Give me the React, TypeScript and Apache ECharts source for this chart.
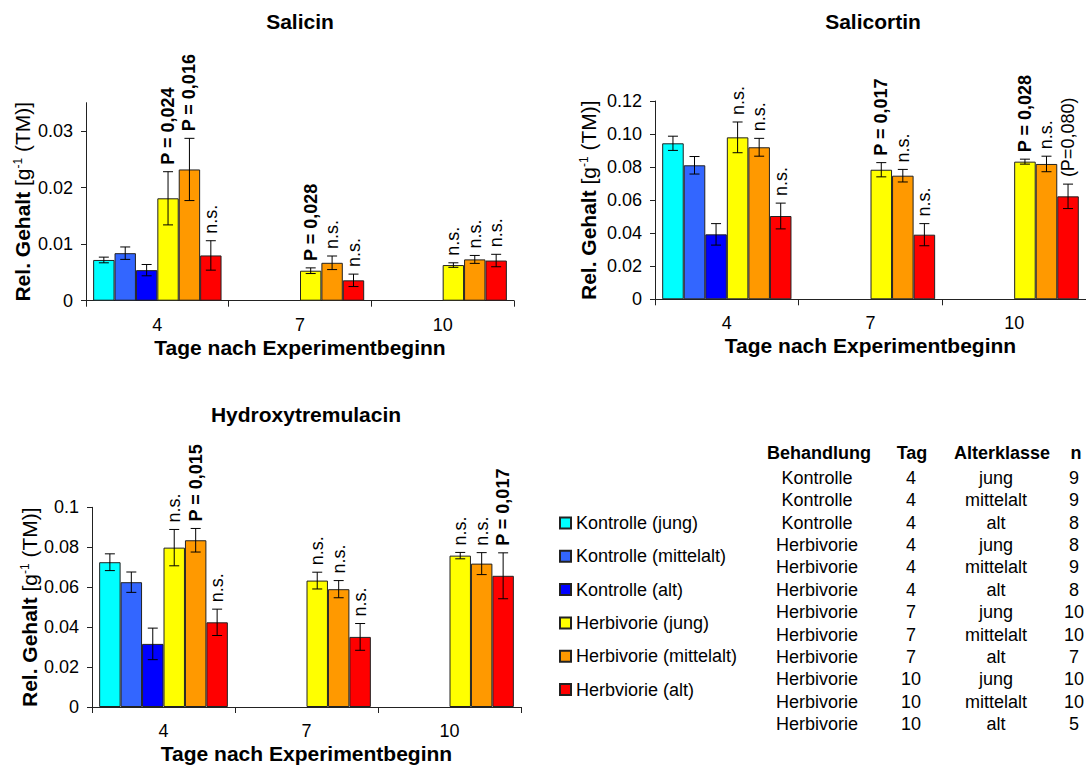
import React, { useEffect, useRef } from 'react';
import * as echarts from 'echarts';

const FONT = '"Liberation Sans", Arial, Helvetica, sans-serif';

const days = ['4', '7', '10'];
const seriesNames = [
  'Kontrolle (jung)',
  'Kontrolle (mittelalt)',
  'Kontrolle (alt)',
  'Herbivorie (jung)',
  'Herbivorie (mittelalt)',
  'Herbviorie (alt)',
];
const seriesColors = ['#00FFFF', '#3366FF', '#0000FF', '#FFFF00', '#FF9900', '#FF0000'];

// Salicin (rows = series, columns = days 4, 7, 10)
const salicinMean = [
  [0.0072, null, null],
  [0.0084, null, null],
  [0.0054, null, null],
  [0.0181, 0.0053, 0.0063],
  [0.0232, 0.0067, 0.0073],
  [0.008, 0.0036, 0.0071],
];
const salicinErr = [
  [0.0005, null, null],
  [0.0011, null, null],
  [0.001, null, null],
  [0.0047, 0.0005, 0.0004],
  [0.0055, 0.0012, 0.0007],
  [0.0026, 0.0011, 0.0011],
];
const salicinSig = [
  ['', '', ''],
  ['', '', ''],
  ['', '', ''],
  ['P = 0,024', 'P = 0,028', 'n.s.'],
  ['P = 0,016', 'n.s.', 'n.s.'],
  ['n.s.', 'n.s.', 'n.s.'],
];

// Salicortin
const salicortinMean = [
  [0.0944, null, null],
  [0.0811, null, null],
  [0.0393, null, null],
  [0.098, 0.0784, 0.0833],
  [0.092, 0.0748, 0.0819],
  [0.0504, 0.0391, 0.0623],
];
const salicortinErr = [
  [0.0043, null, null],
  [0.0053, null, null],
  [0.0065, null, null],
  [0.0093, 0.0043, 0.0015],
  [0.0054, 0.0038, 0.0047],
  [0.0078, 0.0067, 0.0074],
];
const salicortinSig = [
  ['', '', ''],
  ['', '', ''],
  ['', '', ''],
  ['n.s.', 'P = 0,017', 'P = 0,028'],
  ['n.s.', 'n.s.', 'n.s.'],
  ['n.s.', 'n.s.', '(P=0,080)'],
];

// Hydroxytremulacin
const hydroxyMean = [
  [0.0725, null, null],
  [0.0625, null, null],
  [0.0316, null, null],
  [0.0798, 0.0633, 0.0758],
  [0.0835, 0.059, 0.0718],
  [0.0424, 0.0351, 0.0657],
];
const hydroxyErr = [
  [0.0042, null, null],
  [0.0051, null, null],
  [0.0079, null, null],
  [0.0091, 0.0042, 0.0016],
  [0.0059, 0.0043, 0.0055],
  [0.0066, 0.0067, 0.0115],
];
const hydroxySig = [
  ['', '', ''],
  ['', '', ''],
  ['', '', ''],
  ['n.s.', 'n.s.', 'n.s.'],
  ['P = 0,015', 'n.s.', 'n.s.'],
  ['n.s.', 'n.s.', 'P = 0,017'],
];

// Table
const tableHeader = ['Behandlung', 'Tag', 'Alterklasse', 'n'];
const tableBehandlung = ['Kontrolle', 'Kontrolle', 'Kontrolle', 'Herbivorie', 'Herbivorie', 'Herbivorie', 'Herbivorie', 'Herbivorie', 'Herbivorie', 'Herbivorie', 'Herbivorie', 'Herbivorie'];
const tableTag = ['4', '4', '4', '4', '4', '4', '7', '7', '7', '10', '10', '10'];
const tableAlter = ['jung', 'mittelalt', 'alt', 'jung', 'mittelalt', 'alt', 'jung', 'mittelalt', 'alt', 'jung', 'mittelalt', 'alt'];
const tableN = ['9', '9', '8', '8', '9', '8', '10', '10', '7', '10', '10', '5'];

const titles = ['Salicin', 'Salicortin', 'Hydroxytremulacin'];

type ChartDef = {
  mean: (number | null)[][];
  err: (number | null)[][];
  sig: string[][];
  grid: { left: number; top: number; width: number; height: number };
  max: number;
  interval: number;
  ticks: number[];
  fmt: (v: number) => string;
  nameGap: number;
  titleX: number;
  titleY: number;
};

const charts: ChartDef[] = [
  {
    mean: salicinMean,
    err: salicinErr,
    sig: salicinSig,
    grid: { left: 86, top: 102.7, width: 428, height: 198 },
    max: 0.035,
    interval: 0.01,
    ticks: [0, 0.01, 0.02, 0.03],
    fmt: (v) => (v === 0 ? '0' : v.toFixed(2)),
    nameGap: 53,
    titleX: 300,
    titleY: 21,
  },
  {
    mean: salicortinMean,
    err: salicortinErr,
    sig: salicortinSig,
    grid: { left: 655, top: 101, width: 437, height: 198.3 },
    max: 0.12,
    interval: 0.02,
    ticks: [0, 0.02, 0.04, 0.06, 0.08, 0.1, 0.12],
    fmt: (v) => (v === 0 ? '0' : v.toFixed(2)),
    nameGap: 56,
    titleX: 873,
    titleY: 21,
  },
  {
    mean: hydroxyMean,
    err: hydroxyErr,
    sig: hydroxySig,
    grid: { left: 92, top: 507.3, width: 429, height: 200.4 },
    max: 0.1,
    interval: 0.02,
    ticks: [0, 0.02, 0.04, 0.06, 0.08, 0.1],
    fmt: (v) => (v === 0 ? '0' : Math.abs(v - 0.1) < 1e-9 ? '0.1' : v.toFixed(2)),
    nameGap: 50,
    titleX: 306,
    titleY: 414,
  },
];

function textEl(text: string, x: number, y: number, font: string, align: string = 'center') {
  return {
    type: 'text',
    x,
    y,
    style: {
      text,
      font,
      fill: '#000',
      textAlign: align,
      textVerticalAlign: 'middle',
      align,
      verticalAlign: 'middle',
    },
  };
}

export default function App() {
  const ref = useRef<HTMLDivElement>(null);

  useEffect(() => {
    if (!ref.current) return;
    const chart = echarts.init(ref.current, undefined, { renderer: 'svg' });

    const grids: any[] = [];
    const xAxes: any[] = [];
    const yAxes: any[] = [];
    const series: any[] = [];

    charts.forEach((c, ci) => {
      grids.push({ ...c.grid, containLabel: false });
      xAxes.push({
        type: 'category',
        gridIndex: ci,
        data: days,
        name: 'Tage nach Experimentbeginn',
        nameLocation: 'middle',
        nameGap: 36,
        nameTextStyle: { fontSize: 21, fontWeight: 'bold', fontFamily: FONT, color: '#000' },
        axisLine: { show: true, lineStyle: { color: '#222', width: 1 } },
        axisTick: { show: true, length: 6, lineStyle: { color: '#222' } },
        axisLabel: { fontSize: 18, fontFamily: FONT, color: '#000', margin: 15 },
        splitLine: { show: false },
      });
      yAxes.push({
        type: 'value',
        gridIndex: ci,
        min: 0,
        max: c.max,
        interval: c.interval,
        name: '{b|Rel. Gehalt }{n|[g}{s|-1}{n| (TM)]}',
        nameLocation: 'middle',
        nameRotate: 90,
        nameGap: c.nameGap,
        nameTextStyle: {
          rich: {
            b: { fontSize: 21, fontWeight: 'bold', fontFamily: FONT, color: '#000' },
            n: { fontSize: 21, fontFamily: FONT, color: '#000' },
            s: { fontSize: 12, fontFamily: FONT, color: '#000', verticalAlign: 'top' },
          },
        },
        axisLine: { show: true, lineStyle: { color: '#222', width: 1 } },
        axisTick: { show: true, length: 5, lineStyle: { color: '#222' }, customValues: c.ticks },
        axisLabel: {
          fontSize: 18,
          fontFamily: FONT,
          color: '#000',
          margin: 13,
          customValues: c.ticks,
          formatter: (v: number) => c.fmt(v),
        },
        splitLine: { show: false },
      });

      c.mean.forEach((vals, si) => {
        series.push({
          type: 'bar',
          name: seriesNames[si],
          xAxisIndex: ci,
          yAxisIndex: ci,
          data: vals,
          barGap: '0%',
          barCategoryGap: '10%',
          itemStyle: { color: seriesColors[si], borderColor: '#222', borderWidth: 1 },
          emphasis: { disabled: true },
        });
      });

      const errData: any[] = [];
      const errLabels: string[] = [];
      c.mean.forEach((vals, si) => {
        vals.forEach((m, di) => {
          if (m == null) return;
          const e = c.err[si][di] || 0;
          errData.push([di, si, m - e, m + e]);
          errLabels.push(c.sig[si][di]);
        });
      });

      series.push({
        type: 'custom',
        xAxisIndex: ci,
        yAxisIndex: ci,
        data: errData,
        encode: { x: 0, y: [2, 3] },
        z: 10,
        silent: true,
        renderItem: (params: any, api: any) => {
          const di = api.value(0);
          const si = api.value(1);
          const lo = api.value(2);
          const hi = api.value(3);
          const catW = api.size([1, 0])[0];
          const barW = (catW * 0.9) / 6;
          const cx = api.coord([di, 0])[0] - catW * 0.45 + (si + 0.5) * barW;
          const yLo = api.coord([di, lo])[1];
          const yHi = api.coord([di, hi])[1];
          const cap = 5;
          const ls = { stroke: '#000', lineWidth: 1 };
          const children: any[] = [
            { type: 'line', shape: { x1: cx, y1: yLo, x2: cx, y2: yHi }, style: ls },
            { type: 'line', shape: { x1: cx - cap, y1: yLo, x2: cx + cap, y2: yLo }, style: ls },
            { type: 'line', shape: { x1: cx - cap, y1: yHi, x2: cx + cap, y2: yHi }, style: ls },
          ];
          const lab = errLabels[params.dataIndex];
          if (lab) {
            const bold = lab.indexOf('P = ') === 0;
            children.push({
              type: 'text',
              x: cx,
              y: yHi - 7,
              rotation: Math.PI / 2,
              style: {
                text: lab,
                x: 0,
                y: 0,
                font: (bold ? 'bold ' : '') + '18px ' + FONT,
                fill: '#000',
                textAlign: 'left',
                textVerticalAlign: 'middle',
                align: 'left',
                verticalAlign: 'middle',
              },
            });
          }
          return { type: 'group', children };
        },
      });
    });

    const graphics: any[] = [];
    charts.forEach((c, ci) => {
      graphics.push(textEl(titles[ci], c.titleX, c.titleY, 'bold 21px ' + FONT));
    });

    // table
    const colX = [817, 911, 996, 1074];
    const headX = [819, 912, 1002, 1076];
    const headY = 453;
    const rowY0 = 477.7;
    const rowStep = 22.4;
    tableHeader.forEach((h, i) => {
      graphics.push(textEl(h, headX[i], headY, 'bold 18px ' + FONT));
    });
    tableBehandlung.forEach((_, r) => {
      const y = rowY0 + r * rowStep;
      graphics.push(textEl(tableBehandlung[r], colX[0], y, '18px ' + FONT));
      graphics.push(textEl(tableTag[r], colX[1], y, '18px ' + FONT));
      graphics.push(textEl(tableAlter[r], colX[2], y, '18px ' + FONT));
      graphics.push(textEl(tableN[r], colX[3], y, '18px ' + FONT));
    });

    chart.setOption({
      animation: false,
      backgroundColor: '#fff',
      grid: grids,
      xAxis: xAxes,
      yAxis: yAxes,
      series,
      legend: {
        data: seriesNames,
        orient: 'vertical',
        left: 554,
        top: 509,
        itemWidth: 11,
        itemHeight: 11,
        itemGap: 15.3,
        icon: 'rect',
        selectedMode: false,
        textStyle: { fontSize: 18, fontFamily: FONT, color: '#000' },
      },
      graphic: { elements: graphics },
    });

    return () => {
      chart.dispose();
    };
  }, []);

  return (
    <div
      ref={ref}
      style={{ position: 'fixed', left: 0, top: 0, width: 1086, height: 765, background: '#fff' }}
    />
  );
}
